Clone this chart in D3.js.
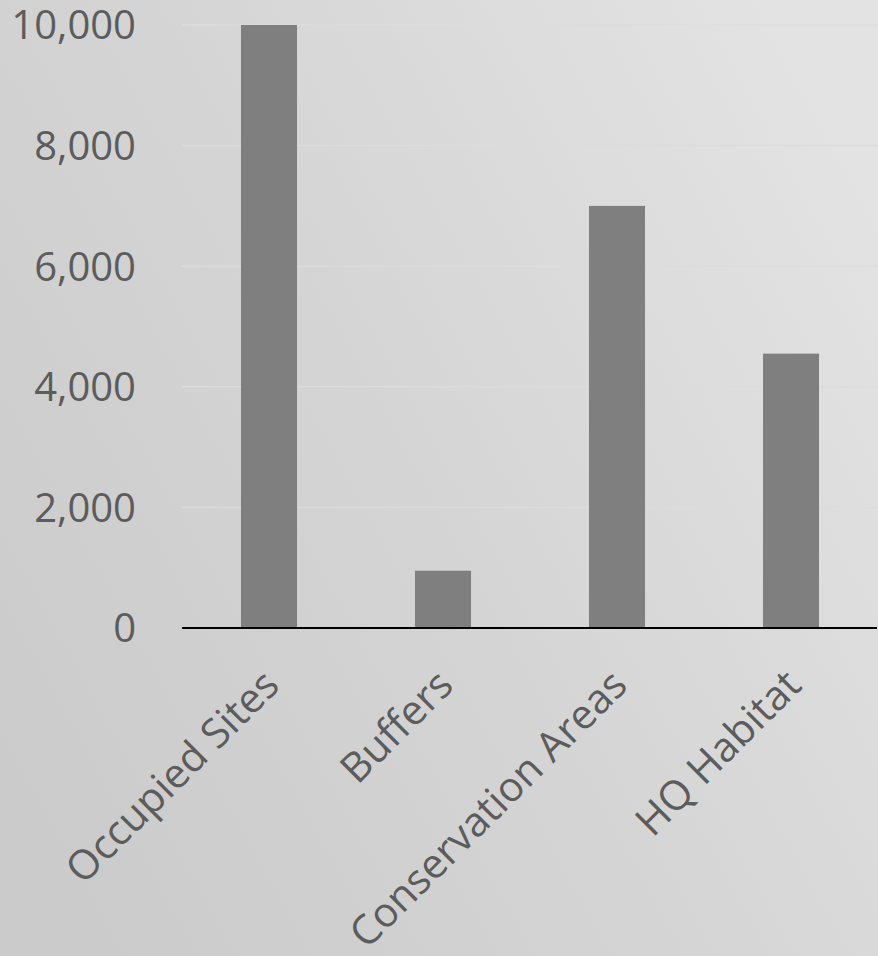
<!DOCTYPE html>
<html>
<head>
<meta charset="utf-8">
<script src="https://d3js.org/d3.v7.min.js"></script>
<style>
	body { margin: 0; }
	text { font-family: "Open Sans", sans-serif; fill: #5c5c5c; }
</style>
</head>
<body>
<script>
	var width = 878, height = 956;

	var categories = ["Occupied Sites", "Buffers", "Conservation Areas", "HQ Habitat"];
	var values = [10000, 950, 7000, 4550];
	var yTicks = [0, 2000, 4000, 6000, 8000, 10000];

	var svg = d3.select("body").append("svg")
		.attr("width", width).attr("height", height);

	var grad = svg.append("defs").append("linearGradient")
		.attr("id", "bg").attr("x1", "0").attr("y1", "0.8").attr("x2", "1").attr("y2", "0.2");
	grad.append("stop").attr("offset", "0").attr("stop-color", "#cbcbcb");
	grad.append("stop").attr("offset", "0.5").attr("stop-color", "#d5d5d5");
	grad.append("stop").attr("offset", "1").attr("stop-color", "#e3e3e3");

	svg.append("rect").attr("width", width).attr("height", height).attr("fill", "url(#bg)");

	var x = d3.scaleBand().domain(categories).range([182, 878])
		.paddingInner(0.678).paddingOuter(0.339);
	var y = d3.scaleLinear().domain([0, 10000]).range([628, 25]);

	// gridlines
	svg.append("g").selectAll("line")
		.data(yTicks.slice(1))
		.enter().append("line")
		.attr("x1", 182).attr("x2", 878)
		.attr("y1", function(d){ return y(d); })
		.attr("y2", function(d){ return y(d); })
		.attr("stroke", "#dcdcdc").attr("stroke-width", 1.5);

	// y labels
	svg.append("g").selectAll("text")
		.data(yTicks)
		.enter().append("text")
		.attr("x", 136)
		.attr("y", function(d){ return y(d); })
		.attr("dy", "0.36em")
		.attr("text-anchor", "end")
		.style("font-size", "40px")
		.text(function(d){ return d3.format(",")(d); });

	// bars
	svg.append("g").selectAll("rect")
		.data(values)
		.enter().append("rect")
		.attr("x", function(d, i){ return x(categories[i]); })
		.attr("width", x.bandwidth())
		.attr("y", function(d){ return y(d); })
		.attr("height", function(d){ return y(0) - y(d); })
		.attr("fill", "#7f7f7f");

	// baseline
	svg.append("line")
		.attr("x1", 182).attr("x2", 877)
		.attr("y1", y(0)).attr("y2", y(0))
		.attr("stroke", "#000").attr("stroke-width", 2);

	// category labels
	svg.append("g").selectAll("text")
		.data(categories)
		.enter().append("text")
		.attr("transform", function(d){
			return "translate(" + (x(d) + x.bandwidth() / 2 + 2) + "," + 677 + ") rotate(-45)";
		})
		.attr("text-anchor", "end")
		.attr("dy", "0.36em")
		.style("font-size", "41px")
		.text(function(d){ return d; });
</script>
</body>
</html>
